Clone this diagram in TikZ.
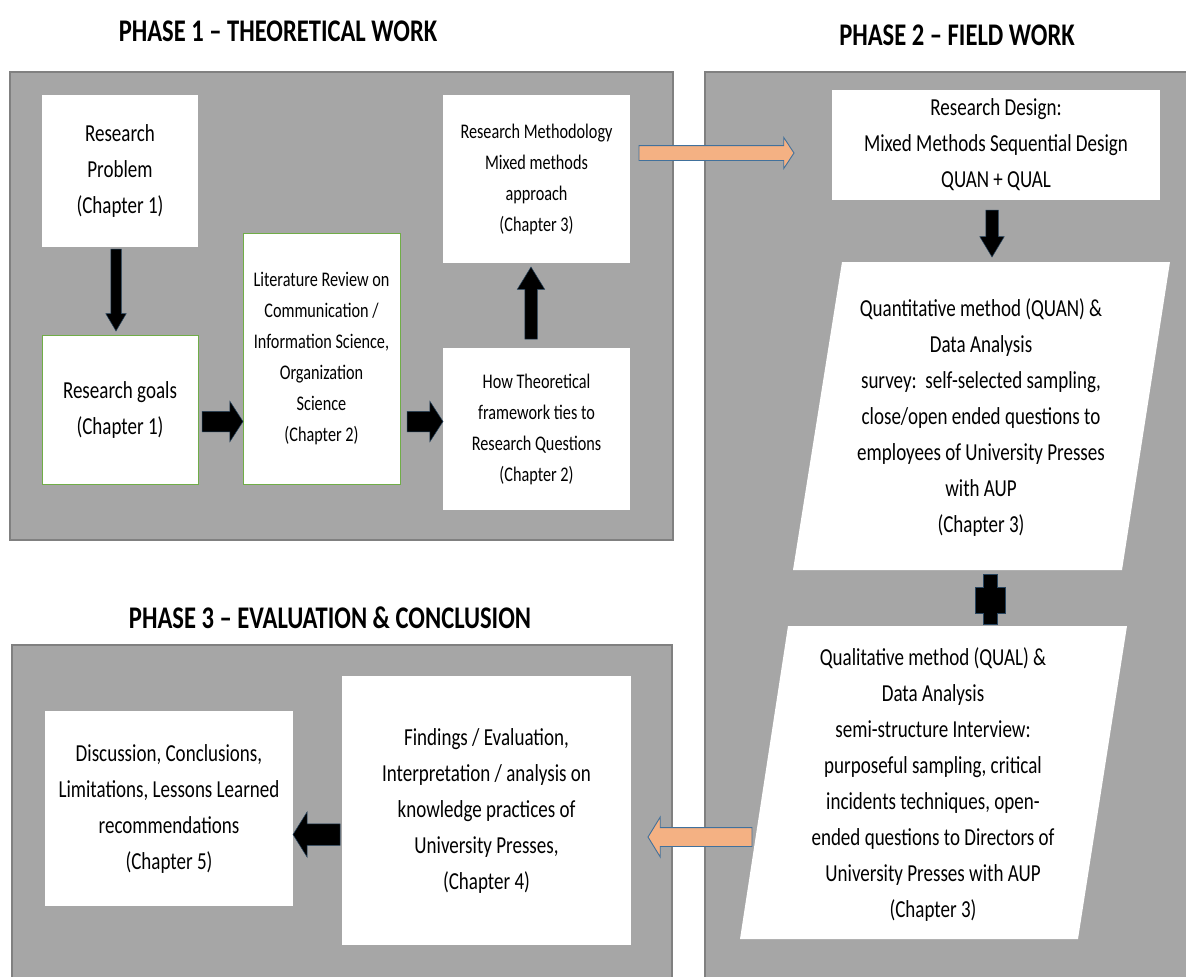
\documentclass[tikz,border=0pt]{standalone}
\usepackage{fontspec}
\setmainfont{Carlito}[FakeStretch=0.78]
\usetikzlibrary{shapes.arrows,calc}

\definecolor{panelgrey}{RGB}{166,166,166}
\definecolor{panelline}{RGB}{128,128,128}
\definecolor{leaf}{RGB}{112,173,71}
\definecolor{peach}{RGB}{244,177,131}
\definecolor{steel}{RGB}{65,113,156}

\tikzset{
  panel/.style={fill=panelgrey, draw=panelline, line width=1.2pt},
  wbox/.style={fill=white, inner sep=0pt, outer sep=0pt, align=center},
  gbox/.style={wbox, draw=leaf, line width=1pt},
  bigtext/.style={font=\fontsize{24.4}{36}\selectfont},
  smalltext/.style={font=\fontsize{20.8}{31}\selectfont},
  phasetitle/.style={font=\fontsize{31.5}{36}\selectfont\bfseries, inner sep=0pt},
  arrowbase/.style={single arrow, inner xsep=0pt, outer sep=0pt,
    minimum width=0pt, single arrow head indent=0pt},
  blk/.style n args={3}{arrowbase, fill=black, draw=steel!60!black,
    line width=0.5pt, inner ysep=#1, single arrow head extend=#2,
    single arrow tip angle=#3},
  org/.style n args={3}{arrowbase, fill=peach, draw=steel,
    line width=0.9pt, inner ysep=#1, single arrow head extend=#2,
    single arrow tip angle=#3},
}

% block arrow from #2 to #3, node name #4
\newcommand\blockarrow[4]{%
  \path let \p1=(#2), \p2=(#3),
    \n1={veclen(\x2-\x1,\y2-\y1)}, \n2={atan2(\y2-\y1,\x2-\x1)} in
    node[#1, minimum height=\n1, rotate=\n2, anchor=tail] (#4) at (\p1) {};}

\begin{document}
\begin{tikzpicture}[x=1pt,y=-1pt]
\useasboundingbox (0,0) rectangle (1186,977);
\clip (0,0) rectangle (1186,977);
\fill[white] (0,0) rectangle (1186,977);

% phase panels
\draw[panel] (10,72) rectangle (673,540);
\draw[panel] (705,72) rectangle (1200,990);
\draw[panel] (12,645) rectangle (672,990);

% titles
\node[phasetitle] (t1) at (278,31) {PHASE 1 – THEORETICAL WORK};
\node[phasetitle] (t2) at (957,35) {PHASE 2 – FIELD WORK};
\node[phasetitle] (t3) at (330,618) {PHASE 3 – EVALUATION \& CONCLUSION};

% phase 1
\node[wbox, bigtext, minimum width=156, minimum height=152] (rp) at (120,171)
  {Research\\Problem\\(Chapter 1)};
\node[gbox, bigtext, minimum width=156, minimum height=149] (rg) at (120,409.5)
  {Research goals\\(Chapter 1)};
\node[gbox, smalltext, minimum width=157, minimum height=251] (lit) at (321.5,358.5)
  {Literature Review on\\Communication /\\Information Science,\\Organization\\Science\\(Chapter 2)};
\node[wbox, smalltext, minimum width=187, minimum height=168] (meth) at (536.5,179)
  {Research Methodology\\Mixed methods\\approach\\(Chapter 3)};
\node[wbox, smalltext, minimum width=187, minimum height=162] (how) at (536.5,429)
  {How Theoretical\\framework ties to\\Research Questions\\(Chapter 2)};

% phase 2
\node[wbox, bigtext, minimum width=328, minimum height=110] (design) at (996,145)
  {Research Design:\\Mixed Methods Sequential Design\\QUAN + QUAL};

\coordinate (quanTL) at (842,262);
\coordinate (quanTR) at (1170,262);
\coordinate (quanBR) at (1122,570);
\coordinate (quanBL) at (793,570);
\fill[white] (quanTL) -- (quanTR) -- (quanBR) -- (quanBL) -- cycle;
\node[bigtext, align=center, inner sep=0pt] (quan) at (981,418)
  {Quantitative method (QUAN) \&\\Data Analysis\\survey:\ \ self-selected sampling,\\close/open ended questions to\\employees of University Presses\\with AUP\\(Chapter 3)};

\coordinate (qualTL) at (788,626);
\coordinate (qualTR) at (1127,626);
\coordinate (qualBR) at (1078,939);
\coordinate (qualBL) at (740,939);
\fill[white] (qualTL) -- (qualTR) -- (qualBR) -- (qualBL) -- cycle;
\node[bigtext, align=center, inner sep=0pt] (qual) at (933,785)
  {Qualitative method (QUAL) \&\\Data Analysis\\semi-structure Interview:\\purposeful sampling, critical\\incidents techniques, open-\\ended questions to Directors of\\University Presses with AUP\\(Chapter 3)};

% plus sign joining the two methods
\coordinate (plus) at (990,599);
\draw[fill=black, draw=steel!60!black, line width=0.5pt]
  ($(plus)+(-7,-25)$) -- ++(14,0) -- ++(0,13) -- ++(8,0) -- ++(0,26)
  -- ++(-8,0) -- ++(0,11) -- ++(-14,0) -- ++(0,-11) -- ++(-8,0)
  -- ++(0,-26) -- ++(8,0) -- cycle;

% phase 3
\node[wbox, bigtext, minimum width=289, minimum height=269] (findings) at (486.5,810.5)
  {Findings / Evaluation,\\Interpretation / analysis on\\knowledge practices of\\University Presses,\\(Chapter 4)};
\node[wbox, bigtext, minimum width=248, minimum height=195] (disc) at (169,808.5)
  {Discussion, Conclusions,\\Limitations, Lessons Learned\\recommendations\\(Chapter 5)};

% connectors
\blockarrow{blk={5pt}{5pt}{61}}{$(rp.south)+(-4,2)$}{$(rg.north)+(-4,-4)$}{a1}
\blockarrow{blk={10pt}{10pt}{114}}{$(rg.east)+(4,12)$}{$(lit.west)+(0,63)$}{a2}
\blockarrow{blk={10pt}{10pt}{114}}{$(lit.east)+(7,63)$}{$(how.west)+(0,-7.5)$}{a3}
\blockarrow{blk={6pt}{7.5pt}{63}}{$(how.north)+(-5.5,-9)$}{$(meth.south)+(-5.5,4)$}{a4}
\blockarrow{blk={6pt}{6pt}{62}}{$(design.south)+(-4,10)$}{$(design.south |- quanTL)+(-4,-5)$}{a5}
\blockarrow{blk={10.5pt}{12pt}{116}}{$(findings.west)+(-2,24)$}{$(disc.east)+(0,26)$}{a6}

\blockarrow{org={7pt}{8pt}{113}}{$(meth.east)+(9,-26)$}{$(design.west)+(-38,8)$}{o1}
\coordinate (o2s) at (752,837);
\blockarrow{org={9pt}{10.5pt}{117}}{o2s}{$(findings.east)+(17,26.5)$}{o2}
\end{tikzpicture}
\end{document}
